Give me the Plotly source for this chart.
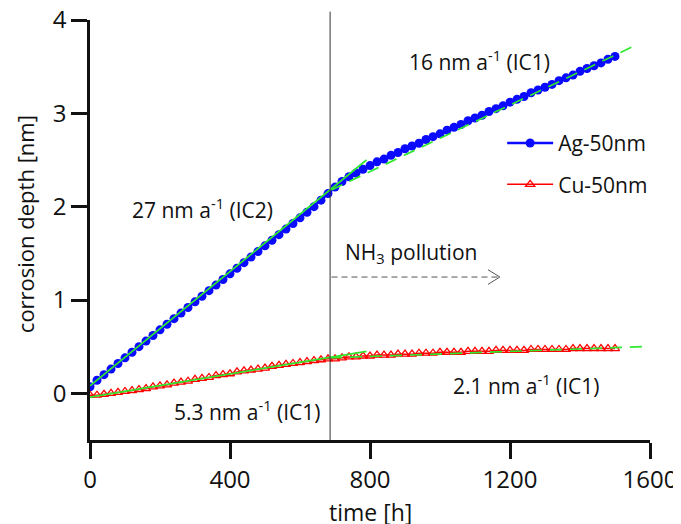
import plotly.graph_objects as go

# ---- data ----
time_h = [0, 20, 40, 60, 80, 100, 120, 140, 160, 180, 200, 220, 240, 260, 280, 300,
          320, 340, 360, 380, 400, 420, 440, 460, 480, 500, 520, 540, 560, 580, 600,
          620, 640, 660, 680, 700, 720, 740, 760, 780, 800, 820, 840, 860, 880, 900,
          920, 940, 960, 980, 1000, 1020, 1040, 1060, 1080, 1100, 1120, 1140, 1160,
          1180, 1200, 1220, 1240, 1260, 1280, 1300, 1320, 1340, 1360, 1380, 1400,
          1420, 1440, 1460, 1480, 1500]

ag_depth = [0.07, 0.14, 0.20, 0.26, 0.32, 0.38, 0.44, 0.50, 0.56, 0.62, 0.68, 0.74,
            0.80, 0.86, 0.92, 0.98, 1.04, 1.10, 1.16, 1.22, 1.28, 1.34, 1.40, 1.46,
            1.52, 1.58, 1.64, 1.70, 1.76, 1.82, 1.88, 1.94, 2.00, 2.07, 2.14, 2.21,
            2.27, 2.32, 2.36, 2.40, 2.44, 2.48, 2.51, 2.55, 2.58, 2.62, 2.65, 2.68,
            2.72, 2.75, 2.78, 2.82, 2.85, 2.88, 2.92, 2.95, 2.98, 3.02, 3.05, 3.08,
            3.12, 3.15, 3.18, 3.22, 3.25, 3.28, 3.31, 3.35, 3.38, 3.41, 3.45, 3.48,
            3.51, 3.54, 3.58, 3.61]

cu_depth = [-0.02, -0.02, -0.01, 0.00, 0.01, 0.02, 0.03, 0.04, 0.05, 0.07, 0.08, 0.09,
            0.11, 0.12, 0.13, 0.15, 0.16, 0.17, 0.19, 0.20, 0.21, 0.23, 0.24, 0.25,
            0.26, 0.27, 0.29, 0.30, 0.31, 0.32, 0.33, 0.34, 0.35, 0.36, 0.37, 0.37,
            0.38, 0.39, 0.39, 0.40, 0.40, 0.41, 0.41, 0.41, 0.42, 0.42, 0.42, 0.43,
            0.43, 0.43, 0.44, 0.44, 0.44, 0.44, 0.45, 0.45, 0.45, 0.45, 0.46, 0.46,
            0.46, 0.46, 0.46, 0.47, 0.47, 0.47, 0.47, 0.47, 0.47, 0.48, 0.48, 0.48,
            0.48, 0.48, 0.48, 0.48]

# linear fits (end points)
ag_fit_ic2_t = [0, 790]
ag_fit_ic2_y = [0.08, 2.50]
ag_fit_ic1_t = [690, 1565]
ag_fit_ic1_y = [2.18, 3.74]
cu_fit_a_t = [0, 790]
cu_fit_a_y = [-0.04, 0.45]
cu_fit_b_t = [686, 1577]
cu_fit_b_y = [0.38, 0.50]

pollution_start_h = 686

x_ticks = [0, 400, 800, 1200, 1600]
y_ticks = [0, 1, 2, 3, 4]

x_title = "time [h]"
y_title = "corrosion depth [nm]"

FONT = "Open Sans"
GREEN = "#2ee82e"
INK = "#111111"

fig = go.Figure()

fig.add_trace(go.Scatter(
    x=time_h, y=ag_depth, mode="lines+markers", name="Ag-50nm",
    line=dict(color="#0a0aff", width=2.5),
    marker=dict(symbol="circle", size=9, color="#0a0aff"),
    legendgroup="ag"))
fig.add_trace(go.Scatter(
    x=time_h, y=cu_depth, mode="lines+markers", name="Cu-50nm",
    line=dict(color="#ff0000", width=1.5),
    marker=dict(symbol="triangle-up-open", size=8, color="#ff0000",
                line=dict(width=1.3)),
    legendgroup="cu"))

for tx, ty, dash in [(ag_fit_ic2_t, ag_fit_ic2_y, "solid"),
                     (ag_fit_ic1_t, ag_fit_ic1_y, "12px,8px"),
                     (cu_fit_a_t, cu_fit_a_y, "solid"),
                     (cu_fit_b_t, cu_fit_b_y, "12px,8px")]:
    fig.add_trace(go.Scatter(x=tx, y=ty, mode="lines", showlegend=False,
                             line=dict(color=GREEN, width=1.7, dash=dash),
                             hoverinfo="skip"))

# vertical line marking the start of NH3 pollution
fig.add_shape(type="line", xref="x", yref="paper",
              x0=pollution_start_h, x1=pollution_start_h, y0=0, y1=1.02,
              line=dict(color="#333333", width=1))
# dashed arrow
fig.add_shape(type="line", xref="x", yref="y", x0=690, x1=1170, y0=1.246, y1=1.246,
              line=dict(color="#555555", width=1, dash="6px,4px"))
fig.add_shape(type="path", xref="x", yref="y",
              path="M 1137,1.325 L 1171,1.246 L 1137,1.167",
              line=dict(color="#555555", width=1))

ann_font = dict(family=FONT, size=21, color=INK)
annotations = [
    (320, 1.985, "27 nm a<sup>-1</sup> (IC2)"),
    (1114, 3.57, "16 nm a<sup>-1</sup> (IC1)"),
    (917, 1.50, "NH<sub>3</sub> pollution"),
    (451, -0.18, "5.3 nm a<sup>-1</sup> (IC1)"),
    (1246, 0.09, "2.1 nm a<sup>-1</sup> (IC1)"),
]
for ax_, ay_, txt in annotations:
    fig.add_annotation(x=ax_, y=ay_, text=txt, showarrow=False, font=ann_font,
                       xanchor="center", yanchor="middle")

# axis titles
fig.add_annotation(xref="paper", yref="paper", x=0.5, y=-0.171, text=x_title,
                   showarrow=False, font=dict(family=FONT, size=23, color=INK),
                   xanchor="center", yanchor="middle")
fig.add_annotation(xref="paper", yref="paper", x=-0.116, y=0.514, text=y_title,
                   showarrow=False, textangle=-90,
                   font=dict(family=FONT, size=22, color=INK),
                   xanchor="center", yanchor="middle")

axis_common = dict(showline=True, linecolor=INK, linewidth=2.5,
                   ticks="outside", ticklen=16, tickwidth=2.5, tickcolor=INK,
                   showgrid=False, zeroline=False, ticklabeloverflow="allow",
                   tickfont=dict(family=FONT, size=24, color=INK))

fig.update_xaxes(range=[0, 1600], tickvals=x_ticks, **axis_common)
fig.update_yaxes(range=[-0.5, 4], tickvals=y_ticks, **axis_common)

# the page body adds an 8 px offset; margins are reduced accordingly
fig.update_layout(
    width=681, height=524,
    margin=dict(l=82, r=39, t=12, b=92, autoexpand=False),
    plot_bgcolor="white", paper_bgcolor="white",
    font=dict(family=FONT, color=INK),
    legend=dict(x=0.736, y=0.755, xanchor="left", yanchor="top",
                font=dict(family=FONT, size=21, color=INK),
                bgcolor="rgba(0,0,0,0)", itemwidth=46, tracegroupgap=11),
    showlegend=True,
)

fig.write_html("out.html")
